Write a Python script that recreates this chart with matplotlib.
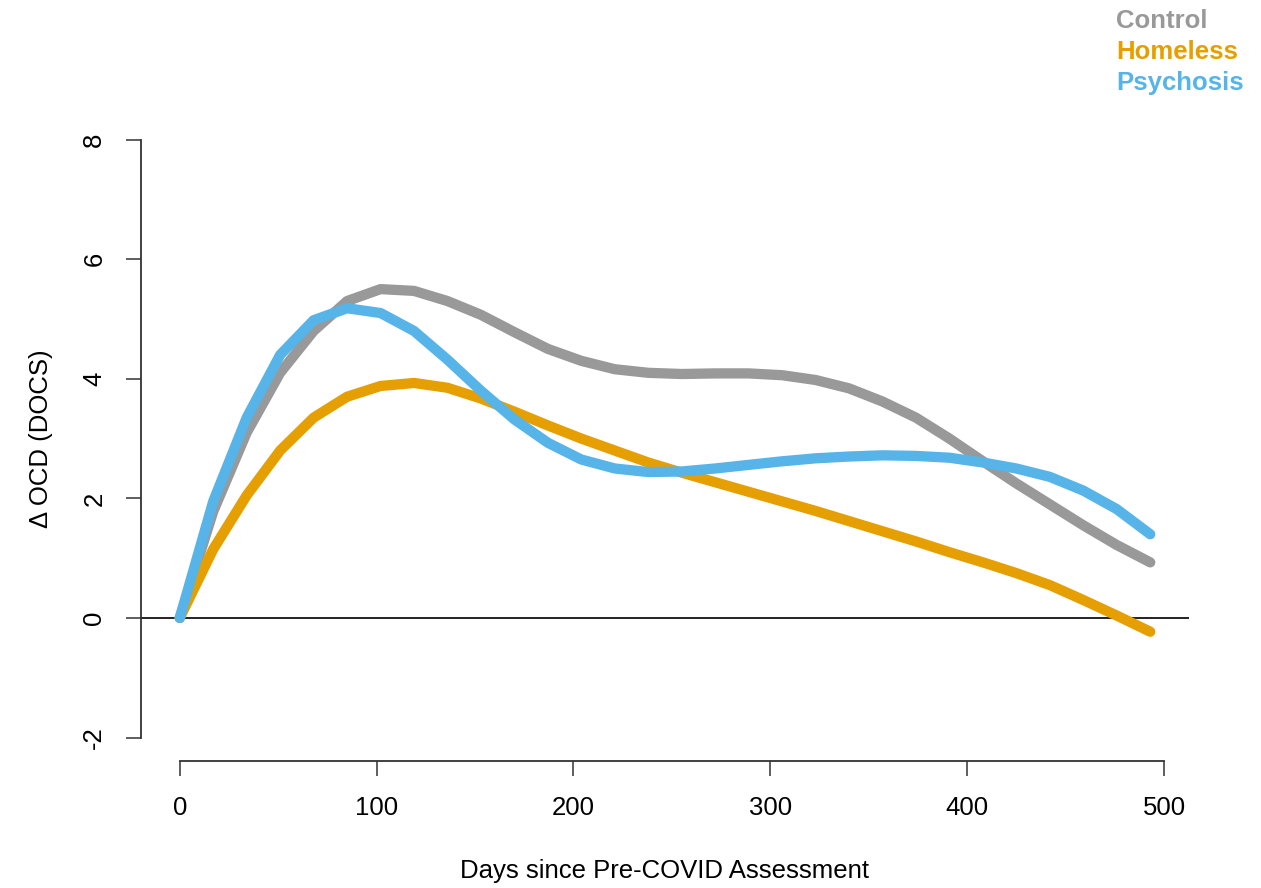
import matplotlib
matplotlib.use("Agg")
import matplotlib.pyplot as plt

plt.rcParams['font.family'] = ['Liberation Sans', 'DejaVu Sans']

days = [0, 17, 34, 51, 68, 85, 102, 119, 136, 153, 170, 187, 204, 221, 238,
        255, 272, 289, 306, 323, 340, 357, 374, 391, 408, 425, 442, 459, 476, 493]

control = [0, 1.78, 3.1, 4.1, 4.8, 5.3, 5.5, 5.47, 5.3, 5.07, 4.78, 4.5, 4.3, 4.16, 4.1,
           4.08, 4.09, 4.09, 4.06, 3.98, 3.84, 3.62, 3.35, 3.0, 2.62, 2.25, 1.9, 1.55, 1.22, 0.93]

homeless = [0, 1.15, 2.05, 2.8, 3.35, 3.7, 3.88, 3.93, 3.85, 3.67, 3.45, 3.22, 3.0, 2.8, 2.6,
            2.43, 2.27, 2.11, 1.95, 1.79, 1.62, 1.45, 1.28, 1.1, 0.93, 0.75, 0.55, 0.3, 0.04, -0.23]

psychosis = [0, 1.95, 3.35, 4.4, 4.98, 5.18, 5.1, 4.8, 4.32, 3.8, 3.32, 2.93, 2.65, 2.5, 2.44,
             2.45, 2.5, 2.56, 2.62, 2.67, 2.7, 2.72, 2.71, 2.68, 2.6, 2.5, 2.36, 2.13, 1.82, 1.4]

series_names = ["Control", "Homeless", "Psychosis"]
series_colors = ["#999999", "#E69F00", "#56B4E9"]

x_ticks = [0, 100, 200, 300, 400, 500]
y_ticks = [-2, 0, 2, 4, 6, 8]

FS = 18.5

fig = plt.figure(figsize=(12.61, 8.88), dpi=100)
ax = fig.add_axes([0.1118, 0.1425, 0.9429 - 0.1118, 0.8697 - 0.1425])

for vals, col in zip([control, homeless, psychosis], series_colors):
    ax.plot(days, vals, color=col, lw=7.4, solid_capstyle='round',
            solid_joinstyle='round')

ax.axhline(0, color='#222222', lw=1.4, zorder=0)

ax.set_xlim(-19.7, 512.7)
ax.set_ylim(-2.4, 8.4)

ax.spines['top'].set_visible(False)
ax.spines['right'].set_visible(False)
ax.spines['left'].set_bounds(-2, 8)
ax.spines['bottom'].set_bounds(0, 500)
for s in ['left', 'bottom']:
    ax.spines[s].set_color('#333333')
    ax.spines[s].set_linewidth(1.3)

ax.set_xticks(x_ticks)
ax.set_yticks(y_ticks)
ax.set_xticklabels([str(v) for v in x_ticks])
ax.set_yticklabels([str(v) for v in y_ticks], rotation=90, va='center')
ax.tick_params(axis='both', direction='out', length=11, width=1.1,
               color='#333333', labelsize=FS, pad=14)

ax.set_xlabel("Days since Pre-COVID Assessment", fontsize=FS, labelpad=28)
ax.set_ylabel("\u0394 OCD (DOCS)", fontsize=FS, labelpad=21)

for i, (name, col) in enumerate(zip(series_names, series_colors)):
    fig.text(1116 / 1261, 1 - (21 + 31 * i) / 888, name, color=col,
             fontsize=FS, fontweight='bold', ha='left', va='center')

fig.savefig("out.png", dpi=100)
